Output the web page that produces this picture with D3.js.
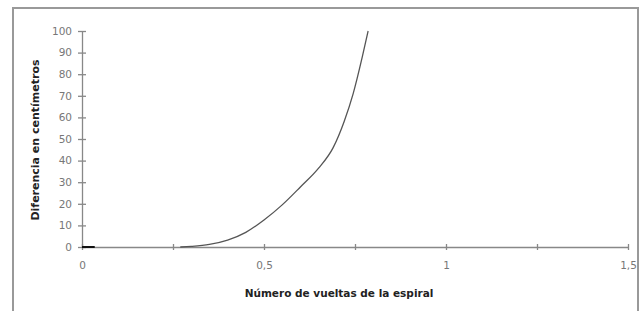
<!DOCTYPE html>
<html>
<head>
<meta charset="utf-8">
<script src="https://cdn.jsdelivr.net/npm/d3@7"></script>
<style>
  body { margin: 0; background: #fff; }
  svg { display: block; font-family: "DejaVu Sans", Verdana, sans-serif; }
</style>
</head>
<body>
<svg id="chart" width="640" height="311"></svg>
<script>
// values
const startX = [0, 0.035];
const startY = [0, 0];
const vueltas = [0.27, 0.30, 0.35, 0.40, 0.45, 0.50, 0.55, 0.60, 0.65, 0.69, 0.72, 0.745, 0.77, 0.786];
const diferencia = [0, 0.3, 1.2, 3.2, 6.8, 12.5, 19.5, 27.8, 36.5, 46, 58, 71, 88, 100];
const xTicks = [0, 0.25, 0.5, 0.75, 1, 1.25, 1.5];
const xLabels = ["0", "", "0,5", "", "1", "", "1,5"];
const yTicks = [0, 10, 20, 30, 40, 50, 60, 70, 80, 90, 100];

const svg = d3.select("#chart");

// outer frame (partly cut off at the bottom)
svg.append("rect")
  .attr("x", 13).attr("y", 8)
  .attr("width", 625).attr("height", 320)
  .attr("fill", "none")
  .attr("stroke", "#999")
  .attr("stroke-width", 2);

const x = d3.scaleLinear().domain([0, 1.5]).range([82, 628]);
const y = d3.scaleLinear().domain([0, 100]).range([247, 31]);

// y axis, ticks crossing the line
const yAxis = svg.append("g")
  .attr("transform", `translate(${x(0)},0)`)
  .call(d3.axisLeft(y).tickValues(yTicks).tickSize(4).tickPadding(6).tickSizeOuter(0));
yAxis.selectAll(".tick line").attr("x2", 4).attr("x1", -4);

// x axis
const xAxis = svg.append("g")
  .attr("transform", `translate(0,${y(0)})`)
  .call(d3.axisBottom(x).tickValues(xTicks).tickFormat((d, i) => xLabels[i])
    .tickSize(3).tickPadding(12).tickSizeOuter(0));
xAxis.selectAll(".tick line").attr("y1", -3).attr("y2", 3);

svg.selectAll(".domain, .tick line").attr("stroke", "#888").attr("stroke-width", 1.3);
svg.selectAll(".tick text").attr("fill", "#777")
  .style("font-family", "'DejaVu Sans', sans-serif").style("font-size", "10.5px");

// series
const line = d3.line().x(d => x(d[0])).y(d => y(d[1])).curve(d3.curveMonotoneX);
svg.append("path")
  .datum(startX.map((v, i) => [v, startY[i]]))
  .attr("d", line)
  .attr("fill", "none").attr("stroke", "#111").attr("stroke-width", 2);
svg.append("path")
  .datum(vueltas.map((v, i) => [v, diferencia[i]]))
  .attr("d", line)
  .attr("fill", "none").attr("stroke", "#555").attr("stroke-width", 1.3);

// axis titles
svg.append("text")
  .attr("x", 339).attr("y", 297)
  .attr("text-anchor", "middle")
  .style("font-size", "10.5px").style("font-weight", "bold").attr("fill", "#222")
  .text("Número de vueltas de la espiral");

svg.append("text")
  .attr("transform", "translate(39,140) rotate(-90)")
  .attr("text-anchor", "middle")
  .style("font-size", "11px").style("font-weight", "bold").attr("fill", "#222")
  .text("Diferencia en centímetros");
</script>
</body>
</html>
